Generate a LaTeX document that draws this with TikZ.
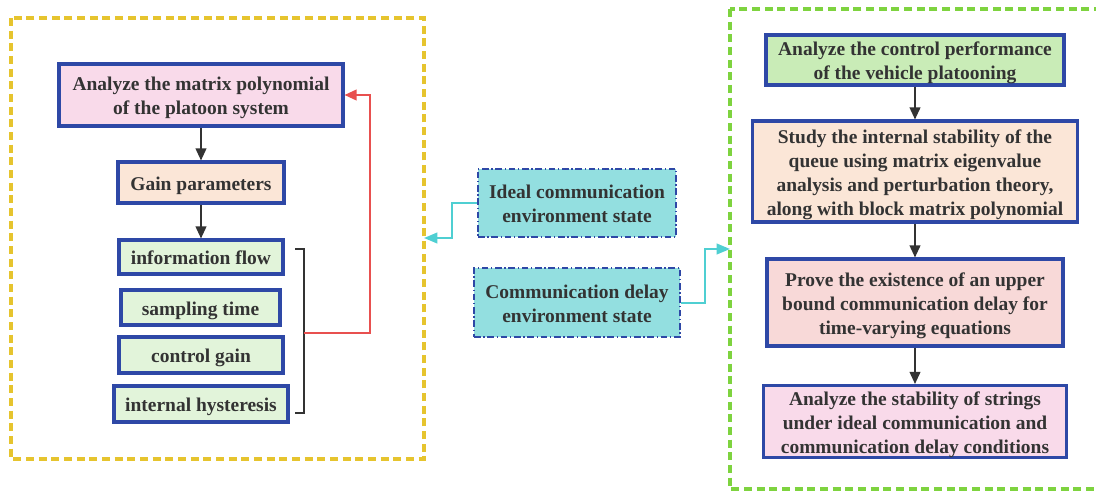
\documentclass[tikz,border=0pt]{standalone}
\usepackage{fontspec}
\setmainfont{Liberation Serif}
\usetikzlibrary{arrows.meta}
\definecolor{bord}{HTML}{2E48A6}
\definecolor{yel}{HTML}{E6C42E}
\definecolor{grn}{HTML}{7ED33F}
\definecolor{redl}{HTML}{E8504F}
\definecolor{cyanl}{HTML}{4FCFD2}
\definecolor{cyanf}{HTML}{93DFE0}
\definecolor{pinkf}{HTML}{F9DAEA}
\definecolor{peachf}{HTML}{FBE6D7}
\definecolor{lgreenf}{HTML}{E2F4DA}
\definecolor{greenf}{HTML}{C9ECB7}
\definecolor{rosef}{HTML}{F8D9D8}
\definecolor{txt}{HTML}{333333}
\newcommand\boxtext[1]{\raisebox{-2.2pt}[\height][\depth]{\begin{tabular}{@{}c@{}}#1\end{tabular}}}
\tikzset{
  box/.style={draw=bord, line width=2.3pt, inner sep=0pt, text=txt,
    font=\fontsize{14.6}{18}\selectfont\bfseries},
  envbox/.style={draw=bord, line width=1.1pt, dash pattern=on 5pt off 2pt on 1pt off 2pt, inner sep=0pt, text=txt, fill=cyanf,
    font=\fontsize{14.6}{18}\selectfont\bfseries},
  flow/.style={draw=txt, line width=1.3pt, -{Triangle[length=9pt,width=8pt]}},
  redarr/.style={draw=redl, line width=1.3pt, -{Triangle[length=9pt,width=8pt]}},
  cyanarr/.style={draw=cyanl, line width=1.5pt, -{Triangle[length=10pt,width=8pt]}},
  frame/.style={line width=3pt, dash pattern=on 6pt off 3.5pt},
}
\begin{document}
\begin{tikzpicture}[x=0.75pt,y=-0.75pt]
\useasboundingbox (0,0) rectangle (1096,492);
\clip (0,0) rectangle (1096,492);
% frames
\draw[frame, draw=yel] (11,18) rectangle (424,459);
\coordinate (yr) at (424,238);
\draw[frame, draw=grn] (730,9) rectangle (1120,489);
\coordinate (gl) at (730,249);
% left column
\node[box, fill=pinkf, minimum width=284*0.75pt, minimum height=62*0.75pt] (m) at (201,95) {\boxtext{Analyze the matrix polynomial\\of the platoon system}};
\node[box, fill=peachf, minimum width=166*0.75pt, minimum height=41*0.75pt] (g) at (201,182.5) {\boxtext{Gain parameters}};
\node[box, fill=lgreenf, minimum width=164*0.75pt, minimum height=34*0.75pt] (i1) at (201,257) {\boxtext{information flow}};
\node[box, fill=lgreenf, minimum width=159*0.75pt, minimum height=35*0.75pt] (i2) at (200.5,307.5) {\boxtext{sampling time}};
\node[box, fill=lgreenf, minimum width=164*0.75pt, minimum height=36*0.75pt] (i3) at (201,355) {\boxtext{control gain}};
\node[box, fill=lgreenf, minimum width=174*0.75pt, minimum height=36*0.75pt] (i4) at (201,404) {\boxtext{internal hysteresis}};
\draw[flow] (m) -- (g);
\draw[flow] (g) -- (i1);
% bracket
\coordinate (b1) at (295,249);
\coordinate (b2) at (304,249);
\coordinate (b3) at (304,413);
\coordinate (b4) at (295,413);
\coordinate (bm) at (304,333);
\draw[draw=txt, line width=1.4pt] (b1) -- (b2) -- (b3) -- (b4);
\draw[redarr] (bm) -- (370,333) -- (370,95) -- (m.east);
% middle
\node[envbox, minimum width=198*0.75pt, minimum height=68*0.75pt] (ideal) at (577,203) {\boxtext{Ideal communication\\environment state}};
\node[envbox, minimum width=206*0.75pt, minimum height=69*0.75pt] (delay) at (577,302.5) {\boxtext{Communication delay\\environment state}};
\draw[cyanarr] (ideal.west) -- (452,203) -- (452,238) -- (yr);
\draw[cyanarr] (delay.east) -- (705,302.5) -- (705,249) -- (gl);
% right column
\node[box, fill=greenf, minimum width=298*0.75pt, minimum height=50*0.75pt] (r1) at (915,60) {\boxtext{Analyze the control performance\\of the vehicle platooning}};
\node[box, fill=peachf, minimum width=325*0.75pt, minimum height=101*0.75pt] (r2) at (915,171.5) {\boxtext{Study the internal stability of the\\queue using matrix eigenvalue\\analysis and perturbation theory,\\along with block matrix polynomial}};
\node[box, fill=rosef, minimum width=296*0.75pt, minimum height=87*0.75pt] (r3) at (915,302.5) {\boxtext{Prove the existence of an upper\\bound communication delay for\\time-varying equations}};
\node[box, fill=pinkf, minimum width=303*0.75pt, minimum height=72*0.75pt] (r4) at (915,421.5) {\boxtext{Analyze the stability of strings\\under ideal communication and\\communication delay conditions}};
\draw[flow] (r1) -- (r2);
\draw[flow] (r2) -- (r3);
\draw[flow] (r3) -- (r4);
\end{tikzpicture}
\end{document}
